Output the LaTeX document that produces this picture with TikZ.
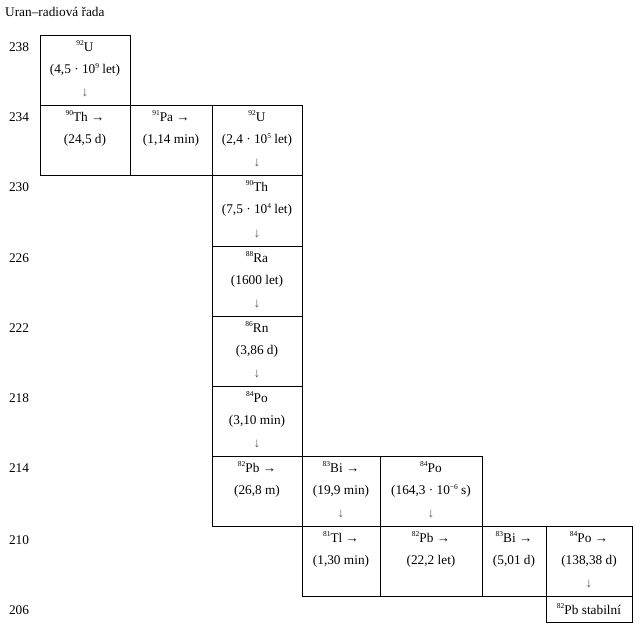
\documentclass[tikz,border=0pt]{standalone}
\usepackage{fontspec}
\setmainfont{Liberation Serif}
\newcommand{\iso}[1]{\raisebox{0.42em}{\fontsize{7.5}{7.5}\selectfont #1}}
\begin{document}
\begin{tikzpicture}[x=1pt,y=-1pt,
  cell/.style={draw=black,line width=0.8pt,inner sep=0pt,outer sep=0pt},
  txt/.style={inner sep=0pt,font=\fontsize{13.3}{15}\selectfont},
  dn/.style={txt,text=black!65}]
\useasboundingbox (0,0) rectangle (642,631);
\node[txt,anchor=west] (title) at (5,12) {Uran–radiová řada};
% row labels
\foreach \n/\y in {238/47,234/117,230/187,226/258,222/328,218/398,214/468,210/540,206/610}
  \node[txt] (r\n) at (19,\y) {\n};
% boxes: name / x1 / y1 / x2 / y2
\foreach \nm/\xa/\ya/\xb/\yb in {
  uA/40/35/130/105, thA/40/105/130/175, paA/130/105/212/175, uB/212/105/302/175,
  thB/212/175/302/246, ra/212/246/302/316, rn/212/316/302/386, poA/212/386/302/456,
  pbA/212/456/302/526, biA/302/456/380/526, poB/380/456/482/526,
  tl/302/526/380/596, pbB/380/526/482/596, biB/482/526/546/596, poC/546/526/632/596,
  pbC/546/596/632/622}
  \draw[cell] (\xa,\ya) rectangle (\xb,\yb) coordinate (\nm-se)
    node[midway,inner sep=0pt] (\nm) {};
% helper macro for contents
\newcommand{\cellt}[4]{%
  \node[txt] (#1-a) at ([yshift=#2pt]#1.center) {#3};%
  \node[txt] (#1-b) at ([yshift=#2pt-24pt]#1.center) {#4};}
\newcommand{\celld}[1]{\node[dn] (#1-c) at ([yshift=-23pt]#1.center) {↓};}
\cellt{uA}{24}{\iso{92}U}{(4,5 · 10\iso{9} let)}\celld{uA}
\cellt{thA}{24}{\iso{90}Th →}{(24,5 d)}
\cellt{paA}{24}{\iso{91}Pa →}{(1,14 min)}
\cellt{uB}{24}{\iso{92}U}{(2,4 · 10\iso{5} let)}\celld{uB}
\cellt{thB}{24.5}{\iso{90}Th}{(7,5 · 10\iso{4} let)}\celld{thB}
\cellt{ra}{24}{\iso{88}Ra}{(1600 let)}\celld{ra}
\cellt{rn}{24}{\iso{86}Rn}{(3,86 d)}\celld{rn}
\cellt{poA}{24}{\iso{84}Po}{(3,10 min)}\celld{poA}
\cellt{pbA}{24}{\iso{82}Pb →}{(26,8 m)}
\cellt{biA}{24}{\iso{83}Bi →}{(19,9 min)}\celld{biA}
\cellt{poB}{24}{\iso{84}Po}{(164,3 · 10\iso{−6} s)}\celld{poB}
\cellt{tl}{24}{\iso{81}Tl →}{(1,30 min)}
\cellt{pbB}{24}{\iso{82}Pb →}{(22,2 let)}
\cellt{biB}{24}{\iso{83}Bi →}{(5,01 d)}
\cellt{poC}{24}{\iso{84}Po →}{(138,38 d)}\celld{poC}
\node[txt] (pbC-a) at (pbC.center) {\iso{82}Pb stabilní};
\end{tikzpicture}
\end{document}
